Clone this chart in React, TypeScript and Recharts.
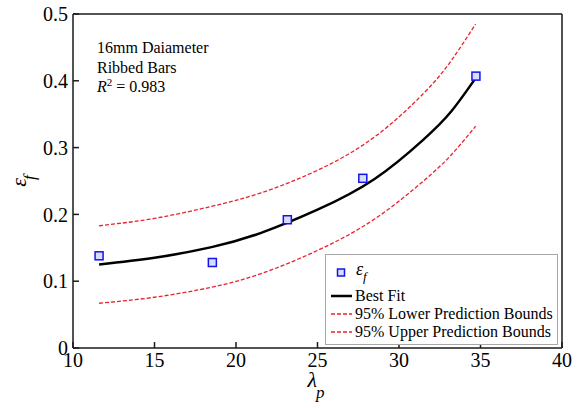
import { ComposedChart, Line, Scatter, XAxis, YAxis, Legend } from "recharts";

const lambdaTicks = [10, 15, 20, 25, 30, 35, 40];
const strainTicks = [0, 0.1, 0.2, 0.3, 0.4, 0.5];

// measured fracture strain vs. lambda_p
const lambdaObs = [11.6, 18.55, 23.15, 27.78, 34.72];
const strainObs = [0.138, 0.128, 0.192, 0.254, 0.407];

// best-fit curve and 95% prediction bounds
const lambdaFit = [11.6, 15, 18.5, 21.5, 25, 28.5, 31.5, 33.2, 34.7];
const strainFit = [0.125, 0.135, 0.151, 0.172, 0.207, 0.253, 0.312, 0.354, 0.404];
const strainLower = [0.067, 0.076, 0.091, 0.111, 0.146, 0.193, 0.25, 0.289, 0.332];
const strainUpper = [0.183, 0.194, 0.212, 0.232, 0.266, 0.316, 0.381, 0.43, 0.485];

const serif = '"Liberation Serif", "Times New Roman", serif';
const ink = "#1a1a1a";
const red = "#e8232f";

const obs = lambdaObs.map((x, i) => ({ x, y: strainObs[i] }));
const fit = lambdaFit.map((x, i) => ({ x, y: strainFit[i] }));
const lower = lambdaFit.map((x, i) => ({ x, y: strainLower[i] }));
const upper = lambdaFit.map((x, i) => ({ x, y: strainUpper[i] }));

const tickFont = { fontFamily: serif, fontSize: 20, fill: "#000" };
const axisStroke = { stroke: ink, strokeWidth: 1.5 };

const SquareMarker = (props: any) => (
  <rect
    x={props.cx - 4}
    y={props.cy - 4}
    width={8}
    height={8}
    fill="#d8ddff"
    stroke="#1414e6"
    strokeWidth={1.5}
  />
);

const XTitle = () => (
  <text x={316} y={387} textAnchor="middle" fontFamily={serif} fontSize={22} fontStyle="italic" fill="#000">
    λ
    <tspan dx={-1} dy={11} fontSize={17}>p</tspan>
  </text>
);

const YTitle = () => (
  <text
    x={26}
    y={181}
    transform="rotate(-90, 26, 181)"
    textAnchor="middle"
    fontFamily={serif}
    fontSize={22}
    fontStyle="italic"
    fill="#000"
  >
    ε
    <tspan dx={-2} dy={9} fontSize={17}>f</tspan>
  </text>
);

const LegendBox = () => {
  const row = (top: number) => ({
    position: "absolute" as const,
    left: 4,
    top,
    height: 18,
    display: "flex",
    alignItems: "center",
    whiteSpace: "nowrap" as const,
  });
  return (
    <div
      style={{
        position: "relative",
        width: 231,
        height: 89,
        border: "1px solid #a8a8a8",
        background: "#fff",
        fontFamily: serif,
        fontSize: 16,
        color: "#000",
        lineHeight: "18px",
      }}
    >
      <div style={row(9)}>
        <svg width={23} height={18}>
          <rect x={7.5} y={5} width={7} height={7} fill="#d8ddff" stroke="#1414e6" strokeWidth={1.5} />
        </svg>
        <span style={{ marginLeft: 3, fontStyle: "italic", fontSize: 18 }}>
          ε<sub style={{ fontSize: 13, verticalAlign: "-6px" }}>f</sub>
        </span>
      </div>
      <div style={row(32)}>
        <svg width={23} height={18}>
          <line x1={1} x2={22} y1={9} y2={9} stroke="#000" strokeWidth={2.5} />
        </svg>
        <span style={{ marginLeft: 2 }}>Best Fit</span>
      </div>
      <div style={row(50)}>
        <svg width={23} height={18}>
          <line x1={1} x2={22} y1={9} y2={9} stroke={red} strokeWidth={1.3} strokeDasharray="4 2" />
        </svg>
        <span style={{ marginLeft: 2 }}>95% Lower Prediction Bounds</span>
      </div>
      <div style={row(68)}>
        <svg width={23} height={18}>
          <line x1={1} x2={22} y1={9} y2={9} stroke={red} strokeWidth={1.3} strokeDasharray="4 2" />
        </svg>
        <span style={{ marginLeft: 2 }}>95% Upper Prediction Bounds</span>
      </div>
    </div>
  );
};

export default function App() {
  return (
    <div
      style={{
        position: "absolute",
        left: 0,
        top: 0,
        width: 580,
        height: 408,
        background: "#fff",
        fontFamily: serif,
      }}
    >
      <ComposedChart width={580} height={408} margin={{ top: 13, right: 17, bottom: 0, left: 1 }}>
        <XAxis
          xAxisId="b"
          type="number"
          dataKey="x"
          domain={[10, 40]}
          ticks={lambdaTicks}
          allowDataOverflow
          height={60}
          tickSize={-6}
          tickMargin={11}
          axisLine={axisStroke}
          tickLine={axisStroke}
          tick={tickFont}
          label={<XTitle />}
        />
        <XAxis
          xAxisId="t"
          orientation="top"
          type="number"
          dataKey="x"
          domain={[10, 40]}
          ticks={lambdaTicks}
          height={1}
          tickSize={-6}
          axisLine={axisStroke}
          tickLine={axisStroke}
          tick={false}
        />
        <YAxis
          yAxisId="l"
          type="number"
          domain={[0, 0.5]}
          ticks={strainTicks}
          allowDataOverflow
          width={72}
          tickSize={-6}
          tickMargin={11}
          axisLine={axisStroke}
          tickLine={axisStroke}
          tick={tickFont}
          tickFormatter={(v: number) => String(v)}
          label={<YTitle />}
        />
        <YAxis
          yAxisId="r"
          orientation="right"
          type="number"
          domain={[0, 0.5]}
          ticks={strainTicks}
          width={1}
          tickSize={-6}
          axisLine={axisStroke}
          tickLine={axisStroke}
          tick={false}
        />
        <Line
          xAxisId="b"
          yAxisId="l"
          data={upper}
          dataKey="y"
          type="natural"
          stroke={red}
          strokeWidth={1.3}
          strokeDasharray="4 2"
          dot={false}
          isAnimationActive={false}
        />
        <Line
          xAxisId="b"
          yAxisId="l"
          data={lower}
          dataKey="y"
          type="natural"
          stroke={red}
          strokeWidth={1.3}
          strokeDasharray="4 2"
          dot={false}
          isAnimationActive={false}
        />
        <Line
          xAxisId="b"
          yAxisId="l"
          data={fit}
          dataKey="y"
          type="natural"
          stroke="#000"
          strokeWidth={2.5}
          dot={false}
          isAnimationActive={false}
        />
        <Scatter
          xAxisId="b"
          yAxisId="l"
          data={obs}
          dataKey="y"
          shape={SquareMarker}
          isAnimationActive={false}
        />
        <Legend
          layout="vertical"
          align="center"
          verticalAlign="middle"
          content={<LegendBox />}
          wrapperStyle={{ left: 325, top: 254, width: 233, height: 91 }}
        />
      </ComposedChart>
      <div
        style={{
          position: "absolute",
          left: 97,
          top: 38,
          fontSize: 16,
          lineHeight: "19.5px",
          color: "#000",
          whiteSpace: "nowrap",
        }}
      >
        <div>16mm Daiameter</div>
        <div>Ribbed Bars</div>
        <div>
          <i>R</i>
          <sup style={{ fontSize: 11, verticalAlign: "6px", lineHeight: 0 }}>2</sup> = 0.983
        </div>
      </div>
    </div>
  );
}
